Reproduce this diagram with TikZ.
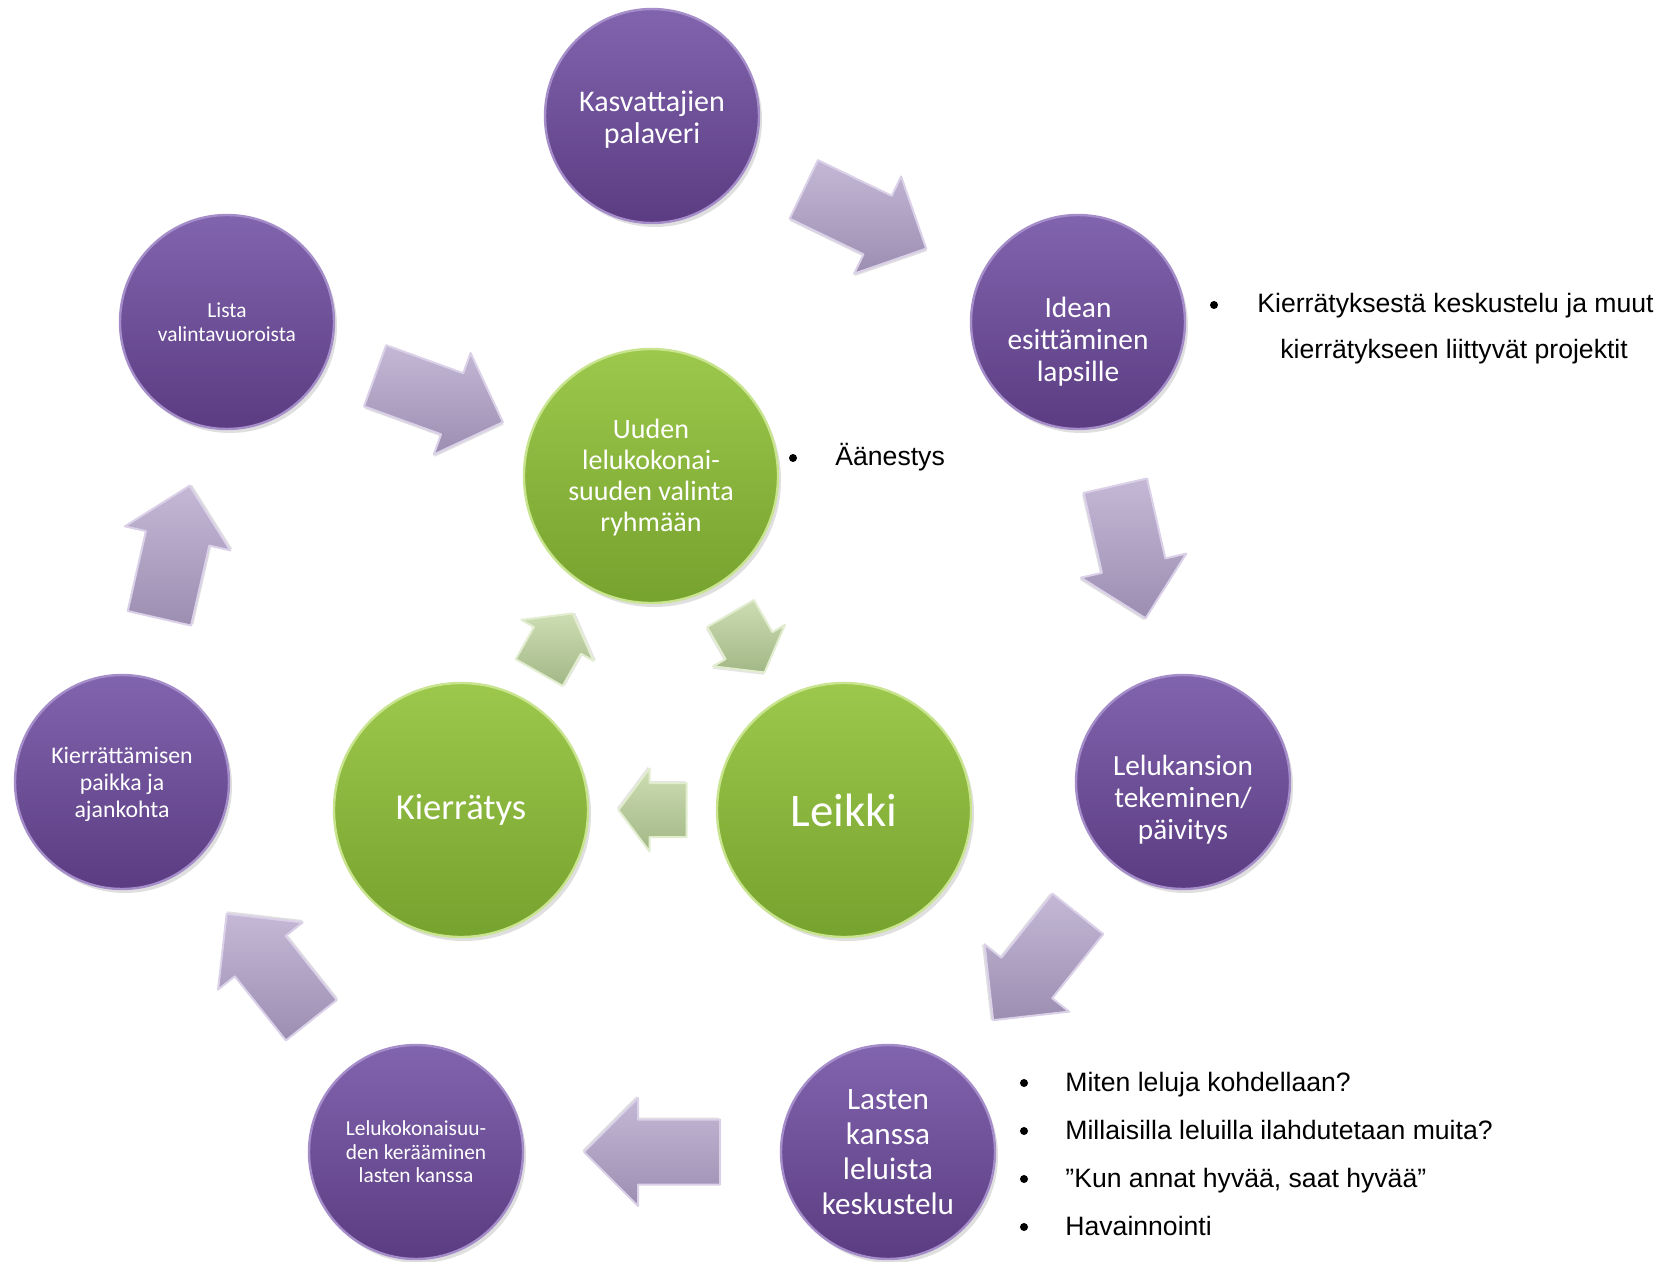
\documentclass[tikz,border=0pt]{standalone}
\usepackage{fontspec}
\setmainfont{Liberation Sans}
\newfontfamily\calibri{Carlito}
\usetikzlibrary{calc,shadows}
\definecolor{purT}{HTML}{8164AE}
\definecolor{purB}{HTML}{5B3C82}
\definecolor{purRim}{HTML}{A48DC9}
\definecolor{grnT}{HTML}{9CC84C}
\definecolor{grnB}{HTML}{76A22E}
\definecolor{grnRim}{HTML}{C9E48E}
\definecolor{arpT}{HTML}{C4B8D6}
\definecolor{arpB}{HTML}{9B8EB1}
\definecolor{arpE}{HTML}{DAD0E8}
\definecolor{argT}{HTML}{CDDDB3}
\definecolor{argB}{HTML}{A2B786}
\definecolor{argE}{HTML}{E2EDD0}
\tikzset{
  pcirc/.style={circle, inner sep=0pt, minimum size=107pt, top color=purT, bottom color=purB,
    draw=purRim, line width=1.2pt, text=white, align=center,
    drop shadow={shadow xshift=1.5pt, shadow yshift=-2pt, opacity=.25}},
  gcirc/.style={circle, inner sep=0pt, minimum size=127pt, top color=grnT, bottom color=grnB,
    draw=grnRim, line width=1.2pt, text=white, align=center,
    drop shadow={shadow xshift=1.5pt, shadow yshift=-2pt, opacity=.25}},
  ctxt/.style={inner sep=0pt, text=white, align=center},
  btxt/.style={inner sep=0pt, text=black, font=\fontsize{13.3pt}{15pt}\selectfont},
  bdot/.style={circle, fill=black, inner sep=0pt, minimum size=4pt},
  pics/parrow/.style={code={
    \fill[black, opacity=.12] ($(-68,-32.5)+(1.5,2)$) -- ($(14,-32.5)+(1.5,2)$) -- ($(14,-54)+(1.5,2)$) -- ($(68,0)+(1.5,2)$)
       -- ($(14,54)+(1.5,2)$) -- ($(14,32.5)+(1.5,2)$) -- ($(-68,32.5)+(1.5,2)$) -- cycle;
    \path[top color=arpT, bottom color=arpB, draw=arpE, line width=1pt, line join=round]
      (-68,-32.5) -- (14,-32.5) -- (14,-54) -- (68,0) -- (14,54) -- (14,32.5) -- (-68,32.5) -- cycle;}},
  pics/garrow/.style={code={
    \fill[black, opacity=.10] ($(-34,-27)+(1.5,2)$) -- ($(3,-27)+(1.5,2)$) -- ($(3,-41.5)+(1.5,2)$) -- ($(34,0)+(1.5,2)$)
       -- ($(3,41.5)+(1.5,2)$) -- ($(3,27)+(1.5,2)$) -- ($(-34,27)+(1.5,2)$) -- cycle;
    \path[top color=argT, bottom color=argB, draw=argE, line width=1pt, line join=round]
      (-34,-27) -- (3,-27) -- (3,-41.5) -- (34,0) -- (3,41.5) -- (3,27) -- (-34,27) -- cycle;}},
}
\newcommand\blockarrowbetween[3]{%
  \path let \p1=(#2.center), \p2=(#3.center), \n1={atan2(\y2-\y1,\x2-\x1)} in
    ($(\p1)!.5!(\p2)$) pic[rotate=\n1]{#1};}
\begin{document}
\begin{tikzpicture}[x=0.5pt, y=-0.5pt]
\useasboundingbox (0,0) rectangle (1680,1262);
\fill[white] (0,0) rectangle (1680,1262);

% purple cycle
\node[pcirc] (kas) at (652,116) {};
\node[ctxt, font=\calibri\fontsize{15pt}{16pt}\selectfont] (kasT) at ([yshift=-1.6pt]kas.center) {Kasvattajien\\palaveri};
\node[pcirc] (idea) at (1078,322) {};
\node[ctxt, font=\calibri\fontsize{14.7pt}{16pt}\selectfont] (ideaT) at ([yshift=-9.6pt]idea.center) {Idean\\esittäminen\\lapsille};
\node[pcirc] (kans) at (1183,782) {};
\node[ctxt, font=\calibri\fontsize{14.6pt}{16pt}\selectfont] (kansT) at ([yshift=-9.1pt]kans.center) {Lelukansion\\tekeminen/\\päivitys};
\node[pcirc, font=\calibri\fontsize{15.6pt}{17.5pt}\selectfont] (lasten) at (888,1152) {Lasten\\kanssa\\leluista\\keskustelu};
\node[pcirc, font=\calibri\fontsize{10.7pt}{11.8pt}\selectfont] (keray) at (416,1152) {Lelukokonaisuu-\\den kerääminen\\lasten kanssa};
\node[pcirc] (paikka) at (122,782) {};
\node[ctxt, font=\calibri\fontsize{11.9pt}{13.5pt}\selectfont] (paikkaT) at ([yshift=-1pt]paikka.center) {Kierrättämisen\\paikka ja\\ajankohta};
\node[pcirc, font=\calibri\fontsize{10.7pt}{11.8pt}\selectfont] (lista) at (227,322) {Lista\\valintavuoroista};

% green cycle
\node[gcirc] (uuden) at (651,476) {};
\node[ctxt, font=\calibri\fontsize{14pt}{15.5pt}\selectfont] (uudenT) at ([yshift=-1pt]uuden.center) {Uuden\\lelukokonai-\\suuden valinta\\ryhmään};
\node[gcirc, font=\calibri\fontsize{18.3pt}{20pt}\selectfont] (kierr) at (461,810) {Kierrätys};
\node[gcirc, font=\calibri\fontsize{23.4pt}{26pt}\selectfont] (leikki) at (844,810) {Leikki};

% block arrows
\blockarrowbetween{parrow}{kas}{idea}
\blockarrowbetween{parrow}{idea}{kans}
\blockarrowbetween{parrow}{kans}{lasten}
\blockarrowbetween{parrow}{lasten}{keray}
\blockarrowbetween{parrow}{keray}{paikka}
\blockarrowbetween{parrow}{paikka}{lista}
\blockarrowbetween{parrow}{lista}{uuden}
\blockarrowbetween{garrow}{kierr}{uuden}
\blockarrowbetween{garrow}{uuden}{leikki}
\blockarrowbetween{garrow}{leikki}{kierr}

% bullet texts
\node[bdot] (d0) at (793,458) {};
\node[btxt, anchor=base west] (t0) at (835,466) {Äänestys};
\node[bdot] (d1) at (1214,305) {};
\node[btxt, anchor=base west] (t1a) at (1257,313) {Kierrätyksestä keskustelu ja muut};
\node[btxt, anchor=base west] (t1b) at (1280,358) {kierrätykseen liittyvät projektit};
\node[bdot] (d2) at (1024,1083) {};
\node[btxt, anchor=base west] (t2) at (1065,1091) {Miten leluja kohdellaan?};
\node[bdot] (d3) at (1024,1131) {};
\node[btxt, anchor=base west] (t3) at (1065,1139) {Millaisilla leluilla ilahdutetaan muita?};
\node[bdot] (d4) at (1024,1179) {};
\node[btxt, anchor=base west] (t4) at (1065,1187) {”Kun annat hyvää, saat hyvää”};
\node[bdot] (d5) at (1024,1227) {};
\node[btxt, anchor=base west] (t5) at (1065,1235) {Havainnointi};
\end{tikzpicture}
\end{document}
